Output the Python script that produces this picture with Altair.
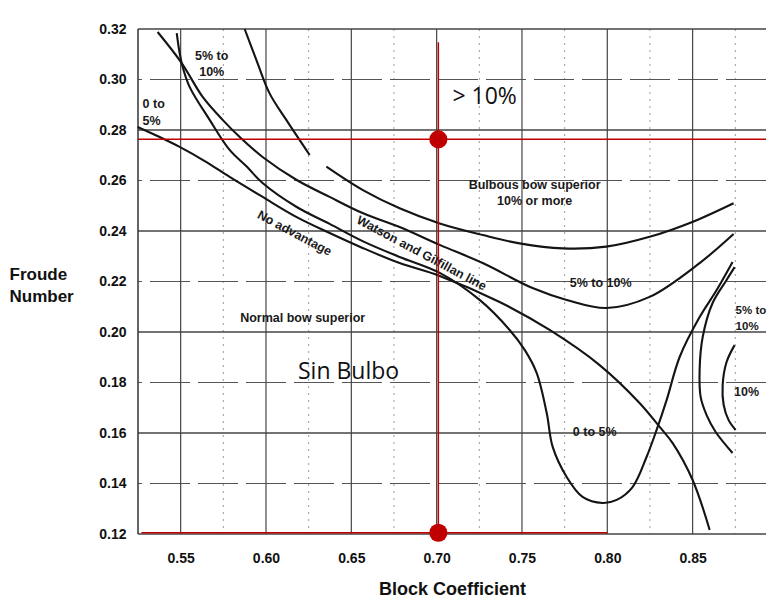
import altair as alt
import pandas as pd

# ---------------- data ----------------
# grid / axis values
major_x = [0.55, 0.60, 0.65, 0.70, 0.75, 0.80, 0.85]
minor_x = [0.575, 0.625, 0.675, 0.725, 0.775, 0.825, 0.875]
major_y = [0.12, 0.16, 0.20, 0.24, 0.28, 0.32]
minor_y = [0.14, 0.18, 0.22, 0.26, 0.30]
y_ticks = [0.12, 0.14, 0.16, 0.18, 0.20, 0.22, 0.24, 0.26, 0.28, 0.30, 0.32]
border_x = [0.525]

# curves (Block coefficient, Froude number)
u10a_x = [0.5875, 0.5944, 0.6021, 0.6119, 0.6256]
u10a_y = [0.3200, 0.3077, 0.2945, 0.2840, 0.2701]

u10b_x = [0.6354, 0.6568, 0.6783, 0.7018, 0.7271, 0.7486, 0.7738, 0.7994, 0.8248, 0.8502, 0.8740]
u10b_y = [0.2655, 0.2562, 0.2490, 0.2430, 0.2384, 0.2351, 0.2331, 0.2338, 0.2377, 0.2437, 0.2510]

l510_x = [0.5365, 0.5506, 0.5629, 0.5746, 0.5846, 0.5980, 0.6180, 0.6373, 0.6566, 0.6783,
          0.7018, 0.7270, 0.7562, 0.7762, 0.7996, 0.8248, 0.8541, 0.8740]
l510_y = [0.3188, 0.3065, 0.2931, 0.2840, 0.2772, 0.2693, 0.2602, 0.2535, 0.2471, 0.2416,
          0.2345, 0.2273, 0.2174, 0.2127, 0.2095, 0.2139, 0.2273, 0.2388]

dip_x = [0.5477, 0.5494, 0.5512, 0.5553, 0.5670, 0.5787, 0.5887, 0.5980, 0.6180, 0.6373,
         0.6566, 0.6783, 0.7018, 0.7252, 0.7428, 0.7516, 0.7586, 0.7645, 0.7680, 0.7762,
         0.7855, 0.7973, 0.8055, 0.8148, 0.8230, 0.8289, 0.8348, 0.8424, 0.8541, 0.8641, 0.8734]
dip_y = [0.3184, 0.3105, 0.3049, 0.2970, 0.2840, 0.2721, 0.2655, 0.2590, 0.2495, 0.2428,
         0.2360, 0.2297, 0.2234, 0.2127, 0.2008, 0.1929, 0.1838, 0.1679, 0.1545, 0.1426,
         0.1347, 0.1323, 0.1335, 0.1386, 0.1505, 0.1612, 0.1731, 0.1901, 0.2059, 0.2166, 0.2277]

noadv_x = [0.5248, 0.5377, 0.5494, 0.5641, 0.5787, 0.5980, 0.6180, 0.6373, 0.6566, 0.6783,
           0.7018, 0.7369, 0.7662, 0.7955, 0.8189, 0.8307, 0.8383, 0.8500, 0.8600]
noadv_y = [0.2812, 0.2772, 0.2733, 0.2677, 0.2614, 0.2535, 0.2455, 0.2392, 0.2333, 0.2273,
           0.2222, 0.2119, 0.2008, 0.1869, 0.1719, 0.1624, 0.1560, 0.1414, 0.1216]

r510_x = [0.8746, 0.8699, 0.8617, 0.8559, 0.8541, 0.8547, 0.8582, 0.8635, 0.8734]
r510_y = [0.2257, 0.2206, 0.2115, 0.1980, 0.1850, 0.1743, 0.1671, 0.1604, 0.1521]

r10_x = [0.8746, 0.8699, 0.8676, 0.8682, 0.8711, 0.8752]
r10_y = [0.1948, 0.1881, 0.1790, 0.1711, 0.1651, 0.1612]

# labels
center_labels = ["Normal bow superior", "Bulbous bow superior\n10% or more", "5% to 10%",
                 "0 to 5%", "5% to\n10%", "10%"]
center_lx = [0.6215, 0.7574, 0.7961, 0.7926, 0.5682, 0.8816]
center_ly = [0.2056, 0.2584, 0.2194, 0.1604, 0.3093, 0.1762]

left_labels = ["0 to\n5%"]
left_lx = [0.5277]
left_ly = [0.2903]

edge_labels = ["5% to\n10%"]
edge_lx = [0.8752]
edge_ly = [0.2083]

rot_labels = ["No advantage", "Watson and Gilfillan line"]
rot_lx = [0.6168, 0.6912]
rot_ly = [0.2391, 0.2312]

big_labels = ["Sin Bulbo", "> 10%"]
big_lx = [0.6484, 0.7281]
big_ly = [0.1842, 0.2931]

# red construction lines and points
red_x1 = [0.525, 0.701, 0.527]
red_x2 = [0.893, 0.701, 0.800]
red_y1 = [0.2763, 0.1205, 0.1205]
red_y2 = [0.2763, 0.3148, 0.1205]
dot_x = [0.701, 0.701]
dot_y = [0.2763, 0.1205]

# ---------------- build ----------------
XD = [0.525, 0.893]
YD = [0.12, 0.32]
FONT = "Liberation Sans"

curves = {
    "u10a": (u10a_x, u10a_y), "u10b": (u10b_x, u10b_y), "l510": (l510_x, l510_y),
    "dip": (dip_x, dip_y), "noadv": (noadv_x, noadv_y), "r510": (r510_x, r510_y),
    "r10": (r10_x, r10_y),
}
rows = []
for name, (xs, ys) in curves.items():
    for i, (a, b) in enumerate(zip(xs, ys)):
        rows.append({"curve": name, "i": i, "x": a, "y": b})
curve_df = pd.DataFrame(rows)

xs_ = alt.Scale(domain=XD, nice=False, zero=False)
ys_ = alt.Scale(domain=YD, nice=False, zero=False)

x_axis = alt.Axis(values=major_x, format=".2f", grid=False, ticks=False, domain=False,
                  labelFont=FONT, labelFontSize=14, labelFontWeight="bold", labelColor="#111",
                  labelPadding=17, title="Block Coefficient", titleFont=FONT, titleFontSize=18,
                  titleFontWeight="bold", titleColor="#111", titlePadding=15)
y_axis = alt.Axis(values=y_ticks, format=".2f", grid=False, ticks=False, domain=False,
                  labelFont=FONT, labelFontSize=14, labelFontWeight="bold", labelColor="#111",
                  labelPadding=12, title=["Froude", "Number"], titleFont=FONT, titleFontSize=17,
                  titleFontWeight="bold", titleColor="#111", titleAngle=0, titleAlign="left",
                  titleBaseline="top", titleX=-129, titleY=237, titleLineHeight=22)


def X(field):
    return alt.X(field, scale=xs_, axis=x_axis)


def Y(field):
    return alt.Y(field, scale=ys_, axis=y_axis)


curves_layer = alt.Chart(curve_df).mark_line(color="#141414", strokeWidth=2.1,
                                             interpolate="catmull-rom").encode(
    x=X("x:Q"), y=Y("y:Q"), detail="curve:N", order="i:Q",
)


def vrules(vals, **kw):
    return alt.Chart(pd.DataFrame({"x": vals})).mark_rule(**kw).encode(x=X("x:Q"))


def hrules(vals, **kw):
    return alt.Chart(pd.DataFrame({"y": vals})).mark_rule(**kw).encode(y=Y("y:Q"))


grid = [
    vrules(minor_x, color="#9a9a9a", strokeWidth=1, strokeDash=[2, 5]),
    hrules(minor_y, color="#555555", strokeWidth=1.2, strokeDash=[40, 8]),
    vrules(major_x, color="#444444", strokeWidth=1.2),
    hrules(major_y, color="#444444", strokeWidth=1.3),
    vrules(border_x, color="#333333", strokeWidth=1.5),
]


def text_layer(labels, lx, ly, **kw):
    df = pd.DataFrame({"t": labels, "x": lx, "y": ly})
    return alt.Chart(df).mark_text(lineBreak="\n", **kw).encode(
        x=X("x:Q"), y=Y("y:Q"), text="t:N",
    )


t_center = text_layer(center_labels, center_lx, center_ly, font=FONT, fontSize=12.5,
                      fontWeight="bold", color="#1a1a1a", align="center", baseline="middle",
                      lineHeight=16)
t_left = text_layer(left_labels, left_lx, left_ly, font=FONT, fontSize=12.5,
                    fontWeight="bold", color="#1a1a1a", align="left", baseline="middle",
                    lineHeight=17)
t_edge = text_layer(edge_labels, edge_lx, edge_ly, font=FONT, fontSize=11.5,
                    fontWeight="bold", color="#1a1a1a", align="left", baseline="middle",
                    lineHeight=16)
t_rot = text_layer(rot_labels, rot_lx, rot_ly, font=FONT, fontSize=12.5, fontWeight="bold",
                   color="#1a1a1a", align="center", baseline="middle", angle=28)
t_big = text_layer(big_labels, big_lx, big_ly, font="Open Sans", fontSize=23,
                   color="#111111", align="center", baseline="middle")

red_df = pd.DataFrame({"x": red_x1, "x2": red_x2, "y": red_y1, "y2": red_y2})
red_lines = alt.Chart(red_df).mark_rule(color="#C00000", strokeWidth=1.5).encode(
    x=X("x:Q"), x2="x2:Q", y=Y("y:Q"), y2="y2:Q",
)
dots = alt.Chart(pd.DataFrame({"x": dot_x, "y": dot_y})).mark_circle(
    color="#C00000", size=330, opacity=1).encode(x=X("x:Q"), y=Y("y:Q"))

chart = alt.layer(*grid, curves_layer, t_center, t_left, t_edge, t_rot, t_big,
                  red_lines, dots).properties(
    width=628, height=505, autosize="none",
    padding={"left": 138, "top": 29, "right": 3, "bottom": 65},
    background="white",
).configure_view(stroke=None)

chart.save("out.html", embed_options={"renderer": "svg", "actions": False})
